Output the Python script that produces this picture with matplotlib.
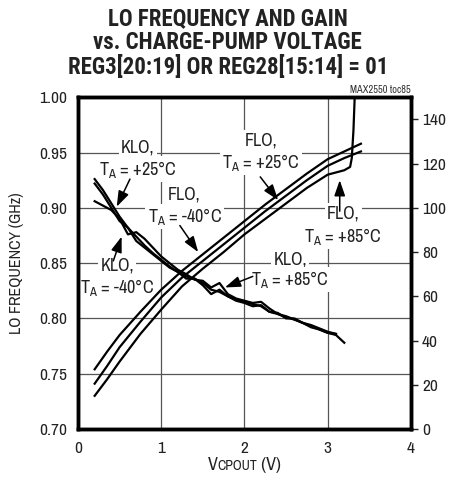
import numpy as np
import matplotlib
matplotlib.use('Agg')
import matplotlib.pyplot as plt
from matplotlib import font_manager
from matplotlib.offsetbox import TextArea, HPacker, AnchoredOffsetbox

installed = {(f.name, f.weight) for f in font_manager.fontManager.ttflist}
names = {n for n, w in installed}
family = 'Archivo Narrow' if 'Archivo Narrow' in names else 'Liberation Sans'
bold_family = family
for cand in ['Roboto Condensed', 'Barlow Semi Condensed', 'Barlow Condensed']:
    if (cand, 700) in installed:
        bold_family = cand
        break
plt.rcParams['font.family'] = [family, 'DejaVu Sans']
plt.rcParams['mathtext.fontset'] = 'custom'
plt.rcParams['mathtext.rm'] = family

# FLO (left axis, GHz)
v_flo = [0.2, 0.35, 0.5, 0.75, 1.0, 1.25, 1.5, 1.75, 2.0, 2.25, 2.5, 2.75, 3.0, 3.2, 3.4]
flo_m40 = [0.754, 0.770, 0.785, 0.806, 0.826, 0.843, 0.858, 0.873, 0.888, 0.903, 0.917, 0.931, 0.944, 0.951, 0.958]
flo_p25 = [0.741, 0.757, 0.774, 0.797, 0.819, 0.837, 0.852, 0.867, 0.882, 0.897, 0.911, 0.925, 0.938, 0.945, 0.951]
v_flo85 = [0.2, 0.35, 0.5, 0.75, 1.0, 1.25, 1.5, 1.75, 2.0, 2.25, 2.5, 2.75, 3.0, 3.2, 3.27, 3.29, 3.31, 3.33]
flo_p85 = [0.730, 0.745, 0.761, 0.786, 0.808, 0.829, 0.845, 0.860, 0.876, 0.890, 0.904, 0.918, 0.930, 0.934, 0.937, 0.945, 0.970, 1.010]

# KLO (right axis)
v_klo = [0.2, 0.3, 0.4, 0.5, 0.6, 0.7, 0.8, 0.9, 1.0, 1.1, 1.2, 1.3, 1.4, 1.5, 1.6, 1.7,
         1.8, 1.9, 2.0, 2.1, 2.2, 2.3, 2.4, 2.5, 2.6, 2.7, 2.8, 2.9, 3.0, 3.1, 3.2]
klo_p25 = [113, 108, 102, 96, 91, 87, 83, 79.5, 76.5, 73.5, 71, 69, 68, 66, 63, 62,
           60, 58.5, 57.5, 56.5, 55.5, 53, 52, 50.5, 49.5, 48, 46.5, 45, 43.5, 42.5, 39]
klo_m40 = [103, 101, 99, 95, 88, 89, 86, 82, 78, 75, 72, 70, 67.5, 67, 64, 66,
           61, 59, 58, 57, 57.5, 54.5, 52, 51, 49.5, 48, 47, 45.5, 44, 43]
klo_p85 = [111, 106, 100, 94, 91, 85, 82, 79, 76, 73, 71, 68, 68, 65, 61, 63,
           60, 58, 57, 55.5, 56, 53, 52.5, 50, 50, 48, 46, 45, 43.5, 43]

fig = plt.figure(figsize=(4.51, 4.90), dpi=100)
ax = fig.add_axes([0.173, 0.1245, 0.738, 0.677])
ax2 = ax.twinx()

lw = 1.6
ax.plot(v_flo, flo_m40, color='black', lw=lw, zorder=3)
ax.plot(v_flo, flo_p25, color='black', lw=lw, zorder=3)
ax.plot(v_flo85, flo_p85, color='black', lw=lw, zorder=3)
ax2.plot(v_klo, klo_p25, color='black', lw=lw)
ax2.plot(v_klo[:len(klo_m40)], klo_m40, color='black', lw=lw)
ax2.plot(v_klo[:len(klo_p85)], klo_p85, color='black', lw=lw)

ax.set_xlim(0, 4)
ax.set_ylim(0.70, 1.00)
ax.set_xticks([0, 1, 2, 3, 4])
ax.set_yticks(np.arange(0.70, 1.001, 0.05))
ax.set_yticklabels(['0.70', '0.75', '0.80', '0.85', '0.90', '0.95', '1.00'])
ax.grid(True, color='#555555', lw=0.9)
ax.set_axisbelow(True)
ax.tick_params(axis='both', length=0, labelsize=12.5, pad=8, colors='#222222')
ax.tick_params(axis='x', pad=9)

ax2.set_ylim(0, 150)
ax2.set_yticks(np.arange(0, 141, 20))
ax2.tick_params(axis='y', length=5, width=1, labelsize=12.5, pad=3, colors='#222222')
for a in (ax, ax2):
    for s in a.spines.values():
        s.set_linewidth(2.5)

ax.set_ylabel('LO FREQUENCY (GHz)', fontsize=11.5, labelpad=11, color='#222222')

# x label: V + smaller CPOUT + (V)
parts = [TextArea('V', textprops=dict(fontsize=13, color='#222222')),
         TextArea('CPOUT', textprops=dict(fontsize=10, color='#222222')),
         TextArea(' (V)', textprops=dict(fontsize=13, color='#222222'))]
box = HPacker(children=parts, align='baseline', pad=0, sep=0)
anch = AnchoredOffsetbox(loc='upper center', child=box, frameon=False,
                         bbox_to_anchor=(0.5, -0.085), bbox_transform=ax.transAxes,
                         borderpad=0, pad=0)
ax.add_artist(anch)

lbl = dict(fontsize=13, ha='center', va='center', color='#222222', zorder=2,
           bbox=dict(fc='white', ec='none', pad=1.5))
arrow = dict(arrowstyle='-|>,head_length=0.95,head_width=0.33', color='black', lw=1.1,
             shrinkA=0, shrinkB=0)


def label(x, y, name, temp, dy=0.020):
    ax.text(x, y, name + ',', **lbl)
    ax.text(x, y - dy, r'T$_\mathregular{A}$ = ' + temp, **lbl)


label(0.72, 0.955, 'KLO', '+25°C')
ax.annotate('', xy=(0.465, 0.901), xytext=(0.624, 0.926), arrowprops=arrow, zorder=4)

label(1.28, 0.912, 'FLO', '-40°C')
ax.annotate('', xy=(1.444, 0.860), xytext=(1.224, 0.884), arrowprops=arrow, zorder=4)

label(0.47, 0.848, 'KLO', '-40°C')
ax.annotate('', xy=(0.524, 0.874), xytext=(0.424, 0.852), arrowprops=arrow, zorder=4)

label(2.2, 0.961, 'FLO', '+25°C')
ax.annotate('', xy=(2.405, 0.907), xytext=(2.19, 0.928), arrowprops=arrow, zorder=4)

label(3.185, 0.895, 'FLO', '+85°C', dy=0.021)
ax.annotate('', xy=(3.145, 0.925), xytext=(3.145, 0.897), arrowprops=arrow, zorder=4)

label(2.55, 0.853, 'KLO', '+85°C', dy=0.018)
ax.annotate('', xy=(1.765, 0.828), xytext=(2.1, 0.838), arrowprops=arrow, zorder=4)

ax.text(1.0, 1.008, 'MAX2550 toc85', transform=ax.transAxes, ha='right', va='bottom',
        fontsize=7.5, color='#333333')

title = 'LO FREQUENCY AND GAIN\nvs. CHARGE-PUMP VOLTAGE\nREG3[20:19] OR REG28[15:14] = 01'
fig.text(0.505, 0.985, title, ha='center', va='top', fontsize=16.5, fontweight='bold',
         family=[bold_family, 'DejaVu Sans'], linespacing=1.05, color='#222222')

fig.savefig('out.png', dpi=100)
